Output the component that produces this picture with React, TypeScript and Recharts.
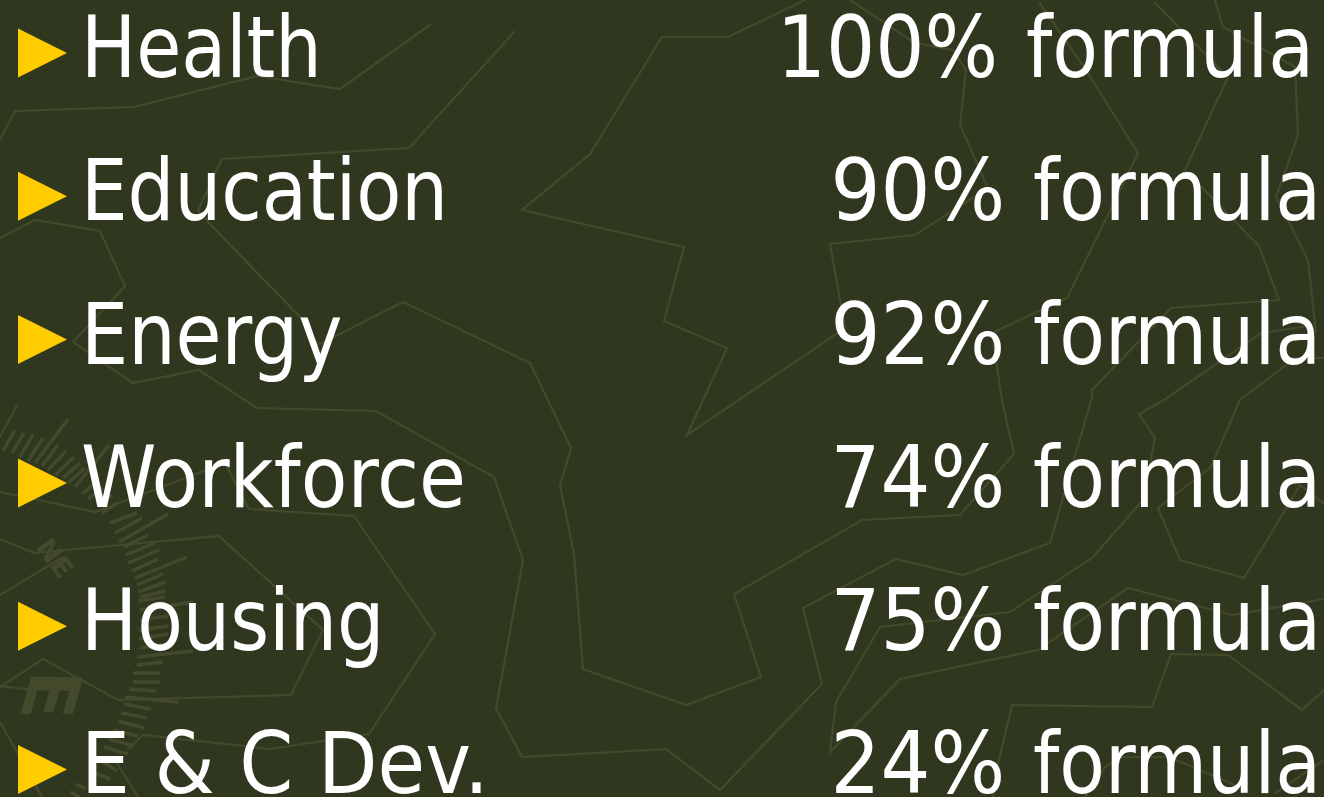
import React from "react";
import { ComposedChart, Scatter, Line, XAxis, YAxis } from "recharts";

const categories = ["Health", "Education", "Energy", "Workforce", "Housing", "E & C Dev."];
const percents = [100, 90, 92, 74, 75, 24];
const formulaWord = "formula";

type P = [number, number];
const mapLines: P[][] = [
  [[0,140],[15,111],[134,107],[257,76],[340,89],[431,24]],
  [[515,31],[409,148],[222,159],[198,210],[209,223],[300,317],[318,345],[403,302],[530,363],[571,448],[560,485],[574,554],[583,669],[686,705],[761,677],[734,594],[862,520],[960,515],[1014,454],[1002,400],[992,333],[1067,298],[1109,213],[1138,153],[1084,67],[1039,2]],
  [[0,238],[35,220],[100,231],[125,286],[73,342],[133,383],[199,370],[257,408],[376,411],[494,477],[523,560],[496,708],[522,757],[666,749],[720,790],[822,684],[803,608],[896,559],[963,575],[1050,543],[1092,397],[1092,390],[1171,308],[1279,300],[1259,246],[1185,170],[1228,77],[1154,2]],
  [[805,0],[728,37],[662,37],[590,154],[522,210],[684,247],[664,321],[727,348],[687,435],[845,328],[830,244],[915,235],[988,188],[960,125],[966,70],[953,50],[915,43],[850,0]],
  [[1215,0],[1223,27],[1295,67],[1298,135],[1276,197],[1308,260],[1316,333]],
  [[1316,325],[1261,333],[1164,400],[1139,414],[1155,438],[1143,500],[1092,558],[1010,612],[880,627],[836,702],[830,752],[900,679],[1038,650],[1128,588],[1232,615],[1324,599]],
  [[1324,358],[1295,358],[1240,400],[1211,467],[1158,508],[1180,560],[1244,578],[1287,507],[1300,485],[1324,504]],
  [[1324,690],[1302,710],[1228,655],[1171,654],[1152,707],[1012,705],[998,764],[993,797]],
  [[1085,797],[1105,767],[1122,757],[1169,757],[1240,787]],
  [[1274,794],[1324,760]],
  [[0,492],[95,512],[225,463],[249,509],[354,516],[435,634],[369,734],[270,749],[143,735],[127,750]],
  [[0,539],[34,553],[219,536],[323,630],[291,695],[118,700],[43,659],[0,687]],
  [[0,595],[63,557]],
  [[0,686],[33,690]],
  [[0,722],[42,797]],
  [[115,760],[138,797]],
  [[0,437],[17,405]],
];

const compassTicks: [number, number, number, number][] = [
  [3,451,15,430],[12,453,24,433],[20,457,33,434],[28,461,43,438],[35,463,68,419],[42,466,58,445],
  [48,470,66,451],[55,475,74,457],[63,478,80,463],[68,483,85,468],[75,487,109,445],[82,494,95,483],
  [88,499,103,488],[97,505,112,495],[102,513,117,503],[110,523,137,513],[115,533,142,518],[119,542,168,514],
  [124,547,148,535],[126,555,155,543],[128,563,159,550],[132,571,158,559],[135,578,187,557],[137,585,163,574],
  [138,592,166,582],[140,597,166,591],[139,601,165,597],[140,610,193,602],[140,620,168,616],[139,630,168,626],
  [139,639,168,634],[140,648,168,644],[137,657,193,651],[137,665,163,662],[133,673,160,673],[133,682,160,682],
  [129,689,156,691],[125,697,178,702],[124,704,151,709],[121,713,147,718],[118,721,144,728],[113,730,138,736],
  [109,739,134,746],[104,747,128,754],[100,760,117,771],[89,771,110,779],[76,784,86,789],[70,792,80,797],
];

const compassLetters = [
  { x: 55, y: 558, label: "NE", size: 27, angle: 53, skew: 0 },
  { x: 51, y: 695, label: "E", size: 72, angle: 91, skew: -15 },
];

const rows = categories.map((category, row) => ({ x: 18, row, category, pct: percents[row] }));

const BG = "#30371f";
const LINE = "#434a2b";
const FONT = "'DejaVu Sans', sans-serif";
const FONT_SIZE = 86;
const labelFit = [0.948, 0.953, 0.966, 0.987, 0.965, 1];

const textStyle = { fontStretch: "condensed" } as const;

const Arrow = (p: any) => (
  <polygon points={`${p.cx},${p.cy - 24.5} ${p.cx + 49},${p.cy} ${p.cx},${p.cy + 24.5}`} fill="#ffcc00" />
);
const LeftText = (p: any) => (
  <text
    transform={`translate(${p.cx + 63} ${p.cy + 24}) scale(${labelFit[p.payload.row]} 1)`}
    fill="#ffffff"
    fontFamily={FONT}
    fontSize={FONT_SIZE}
    style={textStyle}
  >
    {p.payload.category}
  </text>
);
const RightText = (p: any) => {
  const wide = p.payload.pct >= 100;
  const shift = wide ? 7 : 0;
  return (
    <g>
      <text
        transform={`translate(${1005 - shift} ${p.cy + 24}) scale(${wide ? 1 : 1.015} 1)`}
        fill="#ffffff"
        textAnchor="end"
        fontFamily={FONT}
        fontSize={FONT_SIZE}
        style={textStyle}
      >
        {`${p.payload.pct}%`}
      </text>
      <text
        transform={`translate(${1321 - shift} ${p.cy + 24}) scale(0.966 1)`}
        fill="#ffffff"
        textAnchor="end"
        fontFamily={FONT}
        fontSize={FONT_SIZE}
        style={textStyle}
      >
        {formulaWord}
      </text>
    </g>
  );
};
const Letter = (p: any) => (
  <text
    fill={LINE}
    fontFamily={FONT}
    fontWeight="bold"
    fontSize={p.payload.size}
    textAnchor="middle"
    dominantBaseline="central"
    transform={`translate(${p.cx} ${p.cy}) skewX(${p.payload.skew}) rotate(${p.payload.angle})`}
  >
    {p.payload.label}
  </text>
);

export default function App() {
  return (
    <div style={{ position: "absolute", left: 0, top: 0, width: 1324, height: 797, background: BG, overflow: "hidden" }}>
      <ComposedChart width={1324} height={797} margin={{ top: 0, right: 0, bottom: 0, left: 0 }}>
        <XAxis type="number" dataKey="x" domain={[0, 1324]} hide allowDuplicatedCategory />
        <YAxis type="number" dataKey="y" domain={[0, 797]} reversed hide />
        <YAxis yAxisId="rows" type="number" dataKey="row" domain={[-0.37, 5.192]} reversed hide />
        {mapLines.map((pts, i) => (
          <Line
            key={`m${i}`}
            data={pts.map(([x, y]) => ({ x, y }))}
            dataKey="y"
            stroke={LINE}
            strokeWidth={2.2}
            dot={false}
            activeDot={false}
            type="linear"
            isAnimationActive={false}
          />
        ))}
        {compassTicks.map(([a, b, c, d], i) => (
          <Line
            key={`t${i}`}
            data={[{ x: a, y: b }, { x: c, y: d }]}
            dataKey="y"
            stroke={LINE}
            strokeWidth={3.5}
            dot={false}
            activeDot={false}
            type="linear"
            isAnimationActive={false}
          />
        ))}
        <Scatter data={compassLetters} dataKey="y" shape={Letter} isAnimationActive={false} />
        <Scatter yAxisId="rows" data={rows} dataKey="row" shape={Arrow} isAnimationActive={false} />
        <Scatter yAxisId="rows" data={rows} dataKey="row" shape={LeftText} isAnimationActive={false} />
        <Scatter yAxisId="rows" data={rows} dataKey="row" shape={RightText} isAnimationActive={false} />
      </ComposedChart>
    </div>
  );
}
